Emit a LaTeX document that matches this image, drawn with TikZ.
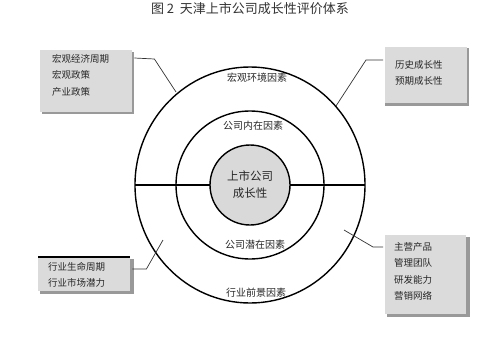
\documentclass[tikz,border=0pt]{standalone}
\usepackage{fontspec}
\newfontfamily\cjk{Noto Sans CJK SC}
\begin{document}
\begin{tikzpicture}[x=1pt,y=-1pt,
  boxfill/.style={fill=black!14, draw=none},
  boxshadow/.style={fill=black!40},
  boxtext/.style={font=\cjk\fontsize{9.5}{16.5}\selectfont, align=left, anchor=north west, inner sep=0pt, text=black!85},
  ringlabel/.style={font=\cjk\fontsize{10}{12}\selectfont, text=black!85},
  conn/.style={draw=black!80, line width=0.7pt}]
\useasboundingbox (0,0) rectangle (485,348);
\node[font=\cjk\fontsize{13}{14}\selectfont, text=black!80, inner sep=0pt] (title) at (250,9) {图 2\ \ 天津上市公司成长性评价体系};
% circles
\coordinate (C) at (250,185);
\draw[line width=1.4pt] (C) ellipse [x radius=115, y radius=118];
\draw[line width=1.4pt] (C) circle (74);
\draw[line width=2.2pt] (135,185) -- (365,185);
\node[circle, draw, line width=1.4pt, fill=black!15, minimum size=80pt, inner sep=0pt,
  font=\cjk\fontsize{11.5}{17}\selectfont, align=center, text=black!85] (core) at (C) {上市公司\\成长性};
% ring labels
\node[ringlabel] (l1) at (257,78) {宏观环境因素};
\node[ringlabel] (l2) at (253,126) {公司内在因素};
\node[ringlabel] (l3) at (255,245) {公司潜在因素};
\node[ringlabel] (l4) at (256,293) {行业前景因素};
% boxes (shadow + box)
\fill[boxshadow] (42,52) rectangle (134,114);
\node[boxfill, minimum width=92pt, minimum height=62pt, inner sep=0pt, anchor=north west] (tl) at (40,50) {};
\node[boxtext] (tltext) at (52,54) {宏观经济周期\\宏观政策\\产业政策};
\fill[boxshadow] (385,48) rectangle (469,106);
\node[boxfill, minimum width=82pt, minimum height=56pt, inner sep=0pt, anchor=north west] (tr) at (385,47) {};
\node[boxtext] (trtext) at (395,60) {历史成长性\\预期成长性};
\fill[boxshadow] (40,259) rectangle (134,294);
\node[boxfill, minimum width=92pt, minimum height=34pt, inner sep=0pt, anchor=north west] (bl) at (38,257) {};
\draw[line width=1.2pt] (38,257) -- (130,257);
\node[boxtext] (bltext) at (48,262) {行业生命周期\\行业市场潜力};
\fill[boxshadow] (387,237) rectangle (470,317);
\node[boxfill, minimum width=81pt, minimum height=79pt, inner sep=0pt, anchor=north west] (br) at (385,235) {};
\node[boxtext] (brtext) at (394,242) {主营产品\\管理团队\\研发能力\\营销网络};
% connectors
\coordinate (tlend) at (176,92);
\coordinate (trend) at (336,106);
\coordinate (blend) at (163,240);
\coordinate (brend) at (344,230);
\draw[conn] ([xshift=2pt,yshift=-8pt]tl.north east) -- ++(20,1) -- (tlend);
\draw[conn] ([xshift=-2pt,yshift=-13pt]tr.north west) -- ++(-17,0) -- (trend);
\draw[conn] ([xshift=2pt,yshift=-12pt]bl.north east) -- ++(14,0) -- (blend);
\draw[conn] ([xshift=-2pt,yshift=-12pt]br.north west) -- ++(-10,0) -- (brend);
\end{tikzpicture}
\end{document}
